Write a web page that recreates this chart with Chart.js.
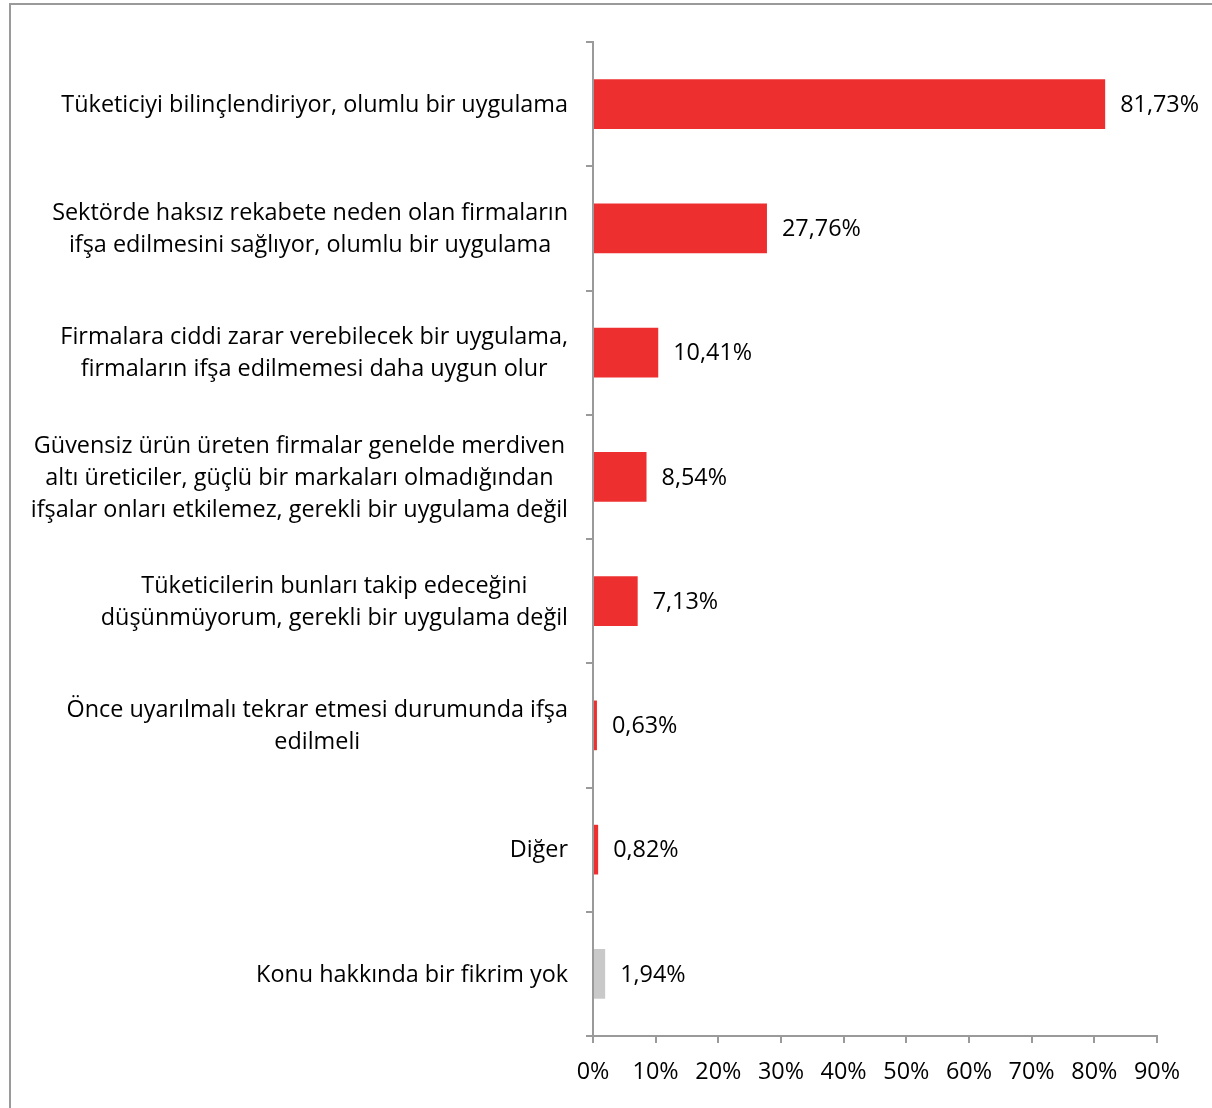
<!DOCTYPE html>
<html>
<head>
<meta charset="utf-8">
<script src="https://cdn.jsdelivr.net/npm/chart.js@4.4.1/dist/chart.umd.min.js"></script>
<style>
  body { margin: 0; background: #fff; }
  #frame { position: absolute; left: 9px; top: 3px; width: 1230px; height: 1130px; border: 2px solid #9a9a9a; }
  #wrap { position: absolute; left: 0; top: 0; width: 1212px; height: 1108px; }
</style>
</head>
<body>
<div id="frame"></div>
<div id="wrap"><canvas id="chart"></canvas></div>
<script>
const categories = [
  ['Tüketiciyi bilinçlendiriyor, olumlu bir uygulama'],
  ['Sektörde haksız rekabete neden olan firmaların', 'ifşa edilmesini sağlıyor, olumlu bir uygulama'],
  ['Firmalara ciddi zarar verebilecek bir uygulama,', 'firmaların ifşa edilmemesi daha uygun olur'],
  ['Güvensiz ürün üreten firmalar genelde merdiven', 'altı üreticiler, güçlü bir markaları olmadığından', 'ifşalar onları etkilemez, gerekli bir uygulama değil'],
  ['Tüketicilerin bunları takip edeceğini', 'düşünmüyorum, gerekli bir uygulama değil'],
  ['Önce uyarılmalı tekrar etmesi durumunda ifşa', 'edilmeli'],
  ['Diğer'],
  ['Konu hakkında bir fikrim yok']
];
const values = [81.73, 27.76, 10.41, 8.54, 7.13, 0.63, 0.82, 1.94];
const barColors = ['#ee2f2f', '#ee2f2f', '#ee2f2f', '#ee2f2f', '#ee2f2f', '#ee2f2f', '#ee2f2f', '#c9c9c9'];

const FONT = '"Open Sans", sans-serif';
const FSIZE = 23.4;
const AXIS = '#9a9a9a';

const fmt = v => v.toFixed(2).replace('.', ',') + '%';

// category labels: block right-aligned to the axis, lines centred inside the block
const catLabels = {
  id: 'catLabels',
  afterDraw(chart) {
    const ctx = chart.ctx;
    const ys = chart.scales.y;
    ctx.save();
    ctx.font = FSIZE + 'px ' + FONT;
    ctx.fillStyle = '#000';
    ctx.textAlign = 'center';
    ctx.textBaseline = 'middle';
    const right = ys.right - 25;
    categories.forEach((lines, i) => {
      const y = ys.getPixelForTick(i) + 1;
      const w = Math.max(...lines.map(l => ctx.measureText(l).width));
      const cx = right - w / 2;
      const lh = 32;
      lines.forEach((l, j) => {
        ctx.fillText(l, cx, y + (j - (lines.length - 1) / 2) * lh);
      });
    });
    ctx.restore();
  }
};

const valueLabels = {
  id: 'valueLabels',
  afterDatasetsDraw(chart) {
    const ctx = chart.ctx;
    const meta = chart.getDatasetMeta(0);
    ctx.save();
    ctx.font = FSIZE + 'px ' + FONT;
    ctx.fillStyle = '#000';
    ctx.textAlign = 'left';
    ctx.textBaseline = 'middle';
    meta.data.forEach((bar, i) => {
      ctx.fillText(fmt(values[i]), bar.x + 15, bar.y + 1);
    });
    ctx.restore();
  }
};

new Chart(document.getElementById('chart'), {
  type: 'bar',
  data: {
    labels: categories.map(c => c.join(' ')),
    datasets: [{
      data: values,
      backgroundColor: barColors,
      borderWidth: 0,
      categoryPercentage: 1,
      barPercentage: 0.4
    }]
  },
  options: {
    indexAxis: 'y',
    responsive: true,
    maintainAspectRatio: false,
    animation: false,
    layout: { padding: { top: 42, right: 55, left: 0, bottom: 0 } },
    plugins: { legend: { display: false }, tooltip: { enabled: false } },
    scales: {
      y: {
        grid: { drawOnChartArea: false, offset: true, color: AXIS, lineWidth: 2, tickLength: 7 },
        border: { color: AXIS, width: 2 },
        ticks: { display: false },
        afterFit(scale) { scale.width = 593; }
      },
      x: {
        min: 0,
        max: 90,
        grid: { drawOnChartArea: false, color: AXIS, lineWidth: 2, tickLength: 7 },
        border: { color: AXIS, width: 2 },
        ticks: {
          stepSize: 10,
          color: '#000',
          padding: 15,
          font: { family: FONT, size: FSIZE },
          callback: v => v + '%'
        },
        afterFit(scale) { scale.height = 72; }
      }
    }
  },
  plugins: [catLabels, valueLabels]
});
</script>
</body>
</html>
